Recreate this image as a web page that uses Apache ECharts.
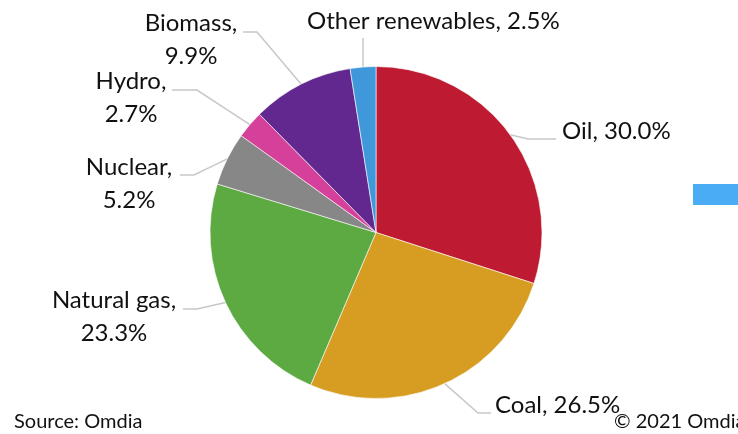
<!DOCTYPE html>
<html>
<head>
<meta charset="utf-8">
<script src="https://cdn.jsdelivr.net/npm/echarts@6/dist/echarts.min.js"></script>
<style>
html,body{margin:0;padding:0;background:#fff;}
#chart{width:738px;height:434px;}
</style>
</head>
<body>
<div id="chart"></div>
<script>
// ---- data ----
var categories = ['Oil', 'Coal', 'Natural gas', 'Nuclear', 'Hydro', 'Biomass', 'Other renewables'];
var shares = [30.0, 26.5, 23.3, 5.2, 2.7, 9.9, 2.5];
var colors = ['#BE1B32', '#D79D22', '#5DAA43', '#878787', '#D5419A', '#62288F', '#3F98DA'];
var sourceText = 'Source: Omdia';
var copyrightText = '\u00A9 2021 Omdia';

// ---- label placement (annotation layout) ----
var labelCfg = {
  'Oil':              {x: 562, y: 131, align: 'left',   multi: false, elbow: [528, 139], end: [556, 139]},
  'Coal':             {x: 495, y: 405, align: 'left',   multi: false, elbow: [478, 413], end: [491, 413]},
  'Natural gas':      {x: 114, y: 317, align: 'center', multi: true,  elbow: [197, 309], end: [183, 309]},
  'Nuclear':          {x: 129, y: 184, align: 'center', multi: true,  elbow: [194, 175], end: [180, 175]},
  'Hydro':            {x: 131, y: 98,  align: 'center', multi: true,  elbow: [197, 90],  end: [172, 90]},
  'Biomass':          {x: 191, y: 40,  align: 'center', multi: true,  elbow: [257, 32],  end: [243, 32]},
  'Other renewables': {x: 307, y: 21,  align: 'left',   multi: false, elbow: [363, 38],  end: [363, 38]}
};

var pieData = categories.map(function (c, i) {
  return {name: c, value: shares[i], itemStyle: {color: colors[i]}};
});

var chart = echarts.init(document.getElementById('chart'), null, {renderer: 'canvas'});
var FONT = 'Lato';

chart.setOption({
  animation: false,
  backgroundColor: '#ffffff',
  series: [{
    type: 'pie',
    center: [376, 232.5],
    radius: [0, 166],
    startAngle: 90,
    clockwise: true,
    avoidLabelOverlap: false,
    itemStyle: {borderColor: '#ffffff', borderWidth: 0.6},
    data: pieData,
    label: {
      show: true,
      position: 'outside',
      fontFamily: FONT,
      fontSize: 24,
      lineHeight: 33,
      color: '#111111',
      formatter: function (p) {
        var cfg = labelCfg[p.name];
        var v = Number(p.value).toFixed(1) + '%';
        return p.name + ',' + (cfg.multi ? '\n' : ' ') + v;
      }
    },
    labelLine: {
      show: true,
      length: 15,
      length2: 10,
      smooth: false,
      lineStyle: {color: '#C8C8C8', width: 1.5}
    },
    labelLayout: function (params) {
      var cfg = labelCfg[categories[params.dataIndex]];
      var start = params.labelLinePoints ? params.labelLinePoints[0] : cfg.elbow;
      return {
        x: cfg.x,
        y: cfg.y,
        align: cfg.align,
        verticalAlign: 'middle',
        labelLinePoints: [start, cfg.elbow, cfg.end]
      };
    },
    emphasis: {disabled: true}
  }],
  graphic: [
    {type: 'rect', left: 693, top: 184, shape: {width: 45, height: 21}, style: {fill: '#4BACF6'}, silent: true},
    {type: 'text', left: 14, top: 412, style: {text: sourceText, font: '20px ' + FONT, fill: '#111111'}},
    {type: 'text', left: 614, top: 412, style: {text: copyrightText, font: '20px ' + FONT, fill: '#111111'}}
  ]
});
</script>
</body>
</html>
